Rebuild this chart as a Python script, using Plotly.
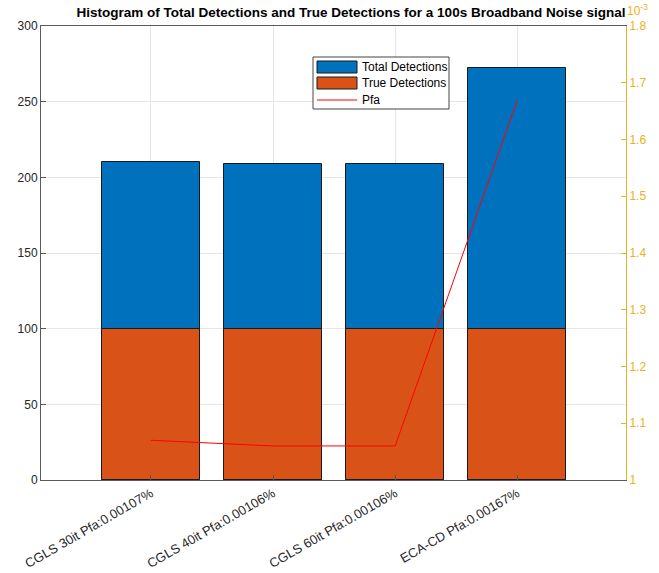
import plotly.graph_objects as go

# Detection results for each algorithm
categories = ["CGLS 30it Pfa:0.00107%", "CGLS 40it Pfa:0.00106%",
              "CGLS 60it Pfa:0.00106%", "ECA-CD Pfa:0.00167%"]
positions = [1, 2, 3, 4]
total_detections = [210, 209, 209, 272]
true_detections = [100, 100, 100, 100]
pfa_scaled = [1.07, 1.06, 1.06, 1.67]   # Pfa in %, units of 1e-3

left_ticks = [0, 50, 100, 150, 200, 250, 300]
right_ticks = [1.0, 1.1, 1.2, 1.3, 1.4, 1.5, 1.6, 1.7, 1.8]
right_labels = ["1", "1.1", "1.2", "1.3", "1.4", "1.5", "1.6", "1.7", "1.8"]
series_names = ["Total Detections", "True Detections", "Pfa"]

BLUE = "#0072BD"
ORANGE = "#D95319"
GOLD = "#EDB120"
RED = "#ff0000"
DARK = "#262626"
FONT = "Liberation Sans, Arial, sans-serif"

W, H = 659, 573
L, R, T, B = 41, 626, 26, 480


def px(x):
    return (x - L) / (R - L)


def py(y):
    return (B - y) / (B - T)


fig = go.Figure()
fig.add_trace(go.Bar(
    x=positions, y=total_detections, name=series_names[0], width=0.8,
    marker=dict(color=BLUE, line=dict(color="#1a1a1a", width=1)),
))
fig.add_trace(go.Bar(
    x=positions, y=true_detections, name=series_names[1], width=0.8,
    marker=dict(color=ORANGE, line=dict(color="#1a1a1a", width=1)),
))
fig.add_trace(go.Scatter(
    x=positions, y=pfa_scaled, name=series_names[2], mode="lines", yaxis="y2",
    line=dict(color=RED, width=1),
))

fig.update_layout(
    width=W, height=H,
    margin=dict(l=L, r=W - R, t=T, b=H - B, autoexpand=False),
    paper_bgcolor="white", plot_bgcolor="white",
    barmode="overlay", bargap=0, showlegend=False,
    font=dict(family=FONT, size=12, color=DARK),
    title=dict(
        text="<b>Histogram of Total Detections and True Detections for a 100s Broadband Noise signal</b>",
        x=351 / W, xanchor="center", y=1 - 12 / H, yanchor="middle",
        font=dict(family=FONT, size=13.5, color="black"),
    ),
    xaxis=dict(
        range=[0.1, 4.89], tickmode="array", tickvals=positions, ticktext=categories,
        tickangle=-30, ticks="inside", ticklen=5, tickcolor="#555555",
        showline=True, linecolor="#5a5a5a", linewidth=1, mirror=True,
        showgrid=True, gridcolor="#e6e6e6", zeroline=False, automargin=False,
        tickfont=dict(size=13, color=DARK),
    ),
    yaxis=dict(
        range=[0, 300], tickmode="array", tickvals=left_ticks,
        ticks="inside", ticklen=5, tickcolor="#555555",
        showline=True, linecolor="#5a5a5a", linewidth=1, automargin=False,
        showgrid=True, gridcolor="#e6e6e6", zeroline=False,
        tickfont=dict(size=12, color=DARK),
    ),
    yaxis2=dict(
        range=[1.0, 1.8], overlaying="y", side="right",
        tickmode="array", tickvals=right_ticks, ticktext=right_labels,
        ticks="inside", ticklen=5, tickcolor=GOLD, automargin=False,
        showline=True, linecolor=GOLD, linewidth=1,
        showgrid=False, zeroline=False,
        tickfont=dict(size=12, color=GOLD),
    ),
)

# Exponent label of the right axis
fig.add_annotation(
    text="10<sup>-3</sup>", xref="paper", yref="paper",
    x=px(625), y=py(10), xanchor="left", yanchor="middle",
    showarrow=False, font=dict(size=12, color=GOLD, family=FONT),
)

# Legend box drawn in the MATLAB style (wide swatches, tight rows)
box = dict(x0=313, x1=449, y0=57, y1=109)
fig.add_shape(type="rect", xref="paper", yref="paper",
              x0=px(box["x0"]), x1=px(box["x1"]), y0=py(box["y1"]), y1=py(box["y0"]),
              line=dict(color="#444444", width=1), fillcolor="white", layer="above")
rows = [(67, "patch", BLUE), (83, "patch", ORANGE), (100, "line", RED)]
for name, (yc, kind, color) in zip(series_names, rows):
    if kind == "patch":
        fig.add_shape(type="rect", xref="paper", yref="paper",
                      x0=px(317), x1=px(357), y0=py(yc + 6), y1=py(yc - 6),
                      line=dict(color="#1a1a1a", width=1), fillcolor=color, layer="above")
    else:
        fig.add_shape(type="line", xref="paper", yref="paper",
                      x0=px(317), x1=px(357), y0=py(yc), y1=py(yc),
                      line=dict(color=color, width=1), layer="above")
    fig.add_annotation(text=name, xref="paper", yref="paper",
                       x=px(360), y=py(yc), xanchor="left", yanchor="middle",
                       showarrow=False, font=dict(size=12, color="black", family=FONT))

fig.write_html("out.html")
